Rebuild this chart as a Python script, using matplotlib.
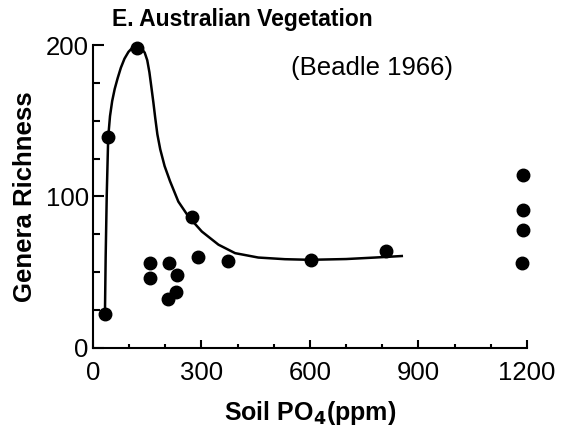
#!/usr/bin/python3
# -*- coding: utf-8 -*-

'''Genera richness against soil phosphate, E. Australian vegetation (Beadle 1966).
'''

import matplotlib
matplotlib.use('Agg')
import matplotlib.pyplot as plt

# Observed points
soil_po4 = [33, 41, 121, 158, 158, 207, 211, 230, 232, 275, 290, 372, 602, 809,
            1190, 1190, 1190, 1186]
richness = [22, 139, 198, 56, 46, 32, 56, 37, 48, 86, 60, 57, 58, 64,
            114, 91, 78, 56]

# Hand fitted curve
curve_x = [33, 35, 38, 42, 47, 53, 60, 68, 77, 87, 98, 108, 118, 127, 135, 143, 150,
           156, 161, 167, 172, 178, 186, 198, 213, 236, 264, 301, 347, 393, 457, 531,
           600, 700, 780, 854]
curve_y = [22, 60, 101, 139, 153, 163, 171, 178, 185, 191, 195.5, 198, 199, 198.8, 197.5,
           195, 190, 182, 173, 162, 152, 141, 131, 120, 110, 96.5, 86.6, 76.7, 68, 62.4,
           59.5, 58.4, 58, 58.5, 59.5, 60.5]

x_ticks = [0, 300, 600, 900, 1200]
y_ticks = [0, 100, 200]

plt.rcParams['font.family'] = ['Liberation Sans', 'DejaVu Sans']

fig = plt.figure(figsize=(5.62, 4.32), dpi=100)
ax = fig.add_axes([0.1655, 0.1956, 0.772, 0.700])

ax.plot(curve_x, curve_y, color='black', lw=1.8, clip_on=False, zorder=2,
        solid_joinstyle='round')
ax.plot(soil_po4, richness, 'o', color='black', ms=9, clip_on=False, zorder=3)

ax.set_xlim(0, 1200)
ax.set_ylim(0, 200)
ax.set_xticks(x_ticks)
ax.set_yticks(y_ticks)
ax.set_xticks(range(0, 1201, 100), minor=True)
ax.set_yticks(range(0, 201, 25), minor=True)

for side in ['top', 'right']:
    ax.spines[side].set_visible(False)
for side in ['left', 'bottom']:
    ax.spines[side].set_linewidth(1.5)

ax.tick_params(which='both', direction='in', width=1.5, labelsize=18.5)
ax.tick_params(axis='x', which='major', length=6, pad=10)
ax.tick_params(axis='x', which='minor', length=3)
ax.tick_params(axis='y', which='major', length=8, pad=3)
ax.tick_params(axis='y', which='minor', length=5)

ax.set_xlabel('Soil PO$_\\mathbf{4}$(ppm)', fontsize=18, fontweight='bold', labelpad=10)
ax.set_ylabel('Genera Richness', fontsize=18.5, fontweight='bold', labelpad=6)

fig.text(0.2, 0.955, 'E. Australian Vegetation', fontsize=16.5, fontweight='bold',
         ha='left', va='center')
fig.text(0.662, 0.842, '(Beadle 1966)', fontsize=18.5, ha='center', va='center')

fig.savefig('out.png', dpi=100)
